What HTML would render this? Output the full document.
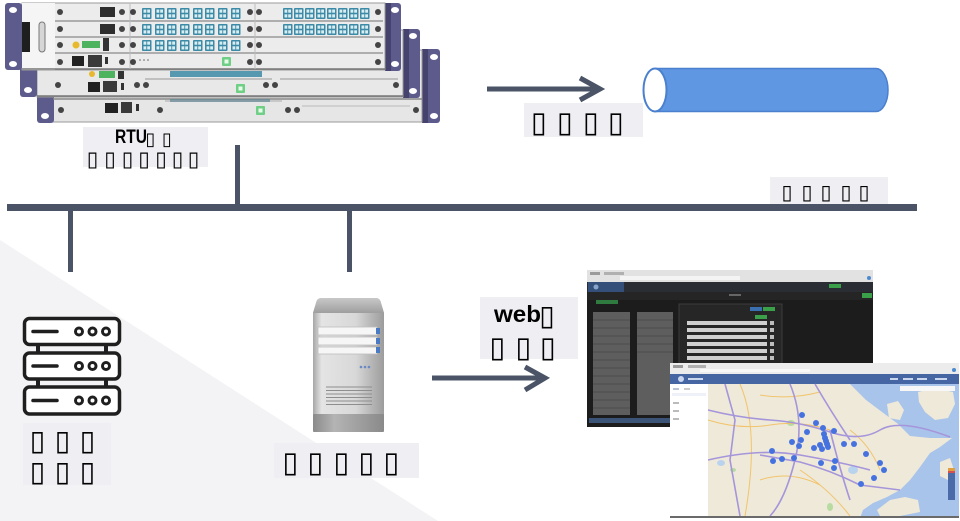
<!DOCTYPE html>
<html><head><meta charset="utf-8">
<style>
html,body{margin:0;padding:0;background:#fff;width:960px;height:521px;overflow:hidden;}
svg{display:block;}
.t{font-family:"DejaVu Sans",sans-serif;fill:#000;text-anchor:middle;}
.b{font-family:"Liberation Sans",sans-serif;font-weight:bold;fill:#000;}
</style></head><body>
<svg width="960" height="521" viewBox="0 0 960 521" xmlns="http://www.w3.org/2000/svg">
<defs>
  <g id="fc">
    <rect x="0" y="0" width="9.5" height="11" rx="1" fill="#3c8aa6"/>
    <rect x="1.5" y="1.5" width="2.8" height="3.2" fill="#d9eef3"/>
    <rect x="5.2" y="1.5" width="2.8" height="3.2" fill="#d9eef3"/>
    <rect x="1.5" y="6.3" width="2.8" height="3.2" fill="#d9eef3"/>
    <rect x="5.2" y="6.3" width="2.8" height="3.2" fill="#d9eef3"/>
  </g>
  <g id="gc">
    <rect x="0" y="0" width="9" height="9" rx="1" fill="#6fcf86"/>
    <rect x="2.5" y="2.5" width="4" height="4" fill="#e8fbe9"/>
  </g>
  <linearGradient id="tw" x1="0" x2="1" y1="0" y2="0">
    <stop offset="0" stop-color="#a6a6a6"/>
    <stop offset="0.12" stop-color="#e4e4e4"/>
    <stop offset="0.6" stop-color="#d8d8d8"/>
    <stop offset="1" stop-color="#9c9c9c"/>
  </linearGradient>
  <linearGradient id="twt" x1="0" x2="0" y1="0" y2="1">
    <stop offset="0" stop-color="#c8c8c8"/>
    <stop offset="1" stop-color="#9e9e9e"/>
  </linearGradient>
  <linearGradient id="twb" x1="0" x2="1" y1="0" y2="0">
    <stop offset="0" stop-color="#8a8a8a"/>
    <stop offset="0.3" stop-color="#b4b4b4"/>
    <stop offset="1" stop-color="#8a8a8a"/>
  </linearGradient>
</defs>

<!-- background triangle -->
<polygon points="0,240 0,521 438,521" fill="#f3f3f5"/>

<!-- ===== RTU chassis 3 (back) ===== -->
<rect x="422" y="49" width="18" height="74" rx="3" fill="#5d5b8c"/>
<rect x="422" y="49" width="6" height="74" fill="#45436d"/>
<ellipse cx="434" cy="57" rx="4" ry="3" fill="#fff"/>
<ellipse cx="434" cy="116" rx="4" ry="3" fill="#fff"/>
<rect x="53" y="50" width="369" height="72" fill="#e6e6e6" stroke="#9a9a9a" stroke-width="1"/>
<rect x="37" y="52" width="17" height="71" rx="3" fill="#5d5b8c"/>
<ellipse cx="45" cy="116" rx="4" ry="3" fill="#fff"/>
<line x1="53" y1="99" x2="422" y2="99" stroke="#888" stroke-width="1.5"/>
<rect x="105" y="103" width="13" height="10" fill="#222"/>
<rect x="121" y="102" width="11" height="11" fill="#3a3a3a"/>
<rect x="136" y="104" width="3" height="7" fill="#333"/>
<circle cx="61" cy="110" r="3" fill="#444"/>
<circle cx="160" cy="110" r="3" fill="#444"/>
<circle cx="288" cy="110" r="3" fill="#444"/>
<circle cx="297" cy="110" r="3" fill="#444"/>
<circle cx="416" cy="110" r="3" fill="#444"/>
<line x1="165" y1="101" x2="282" y2="101" stroke="#aaa"/>
<line x1="302" y1="106" x2="410" y2="106" stroke="#bbb"/>
<use href="#gc" x="256" y="106"/>
<rect x="170" y="99" width="100" height="3" fill="#557f90" opacity="0.6"/>

<!-- ===== RTU chassis 2 ===== -->
<rect x="403" y="29" width="17" height="69" rx="3" fill="#5d5b8c"/>
<rect x="403" y="29" width="6" height="69" fill="#45436d"/>
<ellipse cx="413" cy="36" rx="4" ry="3" fill="#fff"/>
<ellipse cx="413" cy="91" rx="4" ry="3" fill="#fff"/>
<rect x="37" y="30" width="366" height="67" fill="#e8e8e8" stroke="#9a9a9a" stroke-width="1"/>
<rect x="20" y="30" width="17" height="67" rx="3" fill="#5d5b8c"/>
<ellipse cx="28" cy="90" rx="4" ry="3" fill="#fff"/>
<line x1="37" y1="96" x2="403" y2="96" stroke="#777" stroke-width="1.5"/>
<circle cx="92" cy="74" r="3" fill="#e8b92c"/>
<rect x="99" y="71" width="16" height="7" fill="#4db35e"/>
<rect x="118" y="71" width="6" height="8" fill="#333"/>
<rect x="88" y="82" width="12" height="10" fill="#222"/>
<rect x="103" y="81" width="14" height="11" fill="#3a3a3a"/>
<rect x="121" y="83" width="3" height="7" fill="#333"/>
<circle cx="58" cy="85" r="3" fill="#444"/>
<circle cx="137" cy="85" r="3" fill="#444"/>
<circle cx="146" cy="85" r="3" fill="#444"/>
<circle cx="266" cy="85" r="3" fill="#444"/>
<circle cx="275" cy="85" r="3" fill="#444"/>
<circle cx="396" cy="85" r="3" fill="#444"/>
<line x1="145" y1="79" x2="272" y2="79" stroke="#999"/>
<line x1="280" y1="79" x2="398" y2="79" stroke="#999"/>
<rect x="170" y="71" width="92" height="6" fill="#3c8aa6" opacity="0.85"/>
<use href="#gc" x="236" y="84"/>

<!-- ===== RTU chassis 1 (front) ===== -->
<rect x="385" y="3" width="16" height="68" rx="3" fill="#5d5b8c"/>
<rect x="385" y="3" width="6" height="68" fill="#45436d"/>
<ellipse cx="395" cy="10" rx="4" ry="3" fill="#fff"/>
<ellipse cx="395" cy="64" rx="4" ry="3" fill="#fff"/>
<rect x="22" y="3" width="363" height="67" fill="#ececec" stroke="#9a9a9a" stroke-width="1"/>
<rect x="5" y="3" width="17" height="67" rx="3" fill="#5d5b8c"/>
<ellipse cx="13" cy="10" rx="4" ry="3" fill="#fff"/>
<ellipse cx="13" cy="64" rx="4" ry="3" fill="#fff"/>
<rect x="22" y="3" width="33" height="67" fill="#f5f5f5"/>
<rect x="22" y="22" width="8" height="30" fill="#1e1e1e"/>
<rect x="39" y="22" width="6" height="30" rx="3" fill="#d6d6d6" stroke="#777"/>
<line x1="55" y1="21" x2="383" y2="21" stroke="#999" stroke-width="1.5"/>
<line x1="55" y1="37" x2="383" y2="37" stroke="#999" stroke-width="1.5"/>
<line x1="55" y1="53" x2="383" y2="53" stroke="#999" stroke-width="1.5"/>
<line x1="22" y1="69" x2="385" y2="69" stroke="#777" stroke-width="1.5"/>
<line x1="130" y1="4" x2="130" y2="69" stroke="#bbb"/>
<line x1="255" y1="4" x2="255" y2="69" stroke="#bbb"/>
<rect x="100" y="7" width="15" height="10" fill="#2e2e2e"/>
<rect x="100" y="24" width="15" height="10" fill="#2e2e2e"/>
<circle cx="76" cy="45" r="3.5" fill="#e8b92c"/>
<rect x="82" y="41" width="18" height="7" fill="#4db35e"/>
<rect x="103" y="38" width="6" height="13" fill="#333"/>
<rect x="72" y="56" width="12" height="10" fill="#222"/>
<rect x="88" y="55" width="14" height="12" fill="#3a3a3a"/>
<rect x="105" y="57" width="3" height="7" fill="#333"/>
<g fill="#444">
<circle cx="60" cy="12" r="3"/><circle cx="60" cy="29" r="3"/><circle cx="60" cy="45" r="3"/><circle cx="60" cy="62" r="3"/>
<circle cx="122" cy="12" r="3"/><circle cx="122" cy="29" r="3"/><circle cx="122" cy="45" r="3"/><circle cx="122" cy="62" r="3"/>
<circle cx="133" cy="12" r="3"/><circle cx="133" cy="29" r="3"/><circle cx="133" cy="45" r="3"/><circle cx="133" cy="62" r="3"/>
<circle cx="250" cy="12" r="3"/><circle cx="250" cy="29" r="3"/><circle cx="250" cy="45" r="3"/><circle cx="250" cy="62" r="3"/>
<circle cx="259" cy="12" r="3"/><circle cx="259" cy="29" r="3"/><circle cx="259" cy="45" r="3"/><circle cx="259" cy="62" r="3"/>
<circle cx="378" cy="12" r="3"/><circle cx="378" cy="29" r="3"/><circle cx="378" cy="45" r="3"/><circle cx="378" cy="62" r="3"/>
</g>
<!-- fiber connectors col1 -->
<use href="#fc" x="142" y="8"/><use href="#fc" x="155" y="8"/><use href="#fc" x="167" y="8"/><use href="#fc" x="180" y="8"/><use href="#fc" x="193" y="8"/><use href="#fc" x="205" y="8"/><use href="#fc" x="218" y="8"/><use href="#fc" x="231" y="8"/>
<use href="#fc" x="142" y="24"/><use href="#fc" x="155" y="24"/><use href="#fc" x="167" y="24"/><use href="#fc" x="180" y="24"/><use href="#fc" x="193" y="24"/><use href="#fc" x="205" y="24"/><use href="#fc" x="218" y="24"/><use href="#fc" x="231" y="24"/>
<use href="#fc" x="142" y="40"/><use href="#fc" x="155" y="40"/><use href="#fc" x="167" y="40"/><use href="#fc" x="180" y="40"/><use href="#fc" x="193" y="40"/><use href="#fc" x="205" y="40"/><use href="#fc" x="218" y="40"/><use href="#fc" x="231" y="40"/>
<!-- col2 -->
<use href="#fc" x="283" y="8"/><use href="#fc" x="294" y="8"/><use href="#fc" x="305" y="8"/><use href="#fc" x="316" y="8"/><use href="#fc" x="327" y="8"/><use href="#fc" x="338" y="8"/><use href="#fc" x="349" y="8"/><use href="#fc" x="360" y="8"/>
<use href="#fc" x="283" y="24"/><use href="#fc" x="294" y="24"/><use href="#fc" x="305" y="24"/><use href="#fc" x="316" y="24"/><use href="#fc" x="327" y="24"/><use href="#fc" x="338" y="24"/><use href="#fc" x="349" y="24"/><use href="#fc" x="360" y="24"/>
<use href="#gc" x="222" y="57"/>
<circle cx="140" cy="60" r="0.8" fill="#666"/><circle cx="144" cy="60" r="0.8" fill="#666"/><circle cx="148" cy="60" r="0.8" fill="#666"/>

<!-- RTU label -->
<rect x="83" y="127" width="125" height="40" fill="#eeeef3"/>
<text class="b" x="115" y="143" font-size="19" textLength="32" lengthAdjust="spacingAndGlyphs">RTU</text>
<text class="t" font-size="18" x="150.5 167" y="145">▯▯</text>
<text class="t" font-size="21" x="92.5 110 127.5 144 161 177.5 193.5" y="166">▯▯▯▯▯▯▯</text>

<!-- vertical line RTU -> bus -->
<rect x="235" y="145" width="5" height="62" fill="#4a5466"/>
<!-- bus -->
<rect x="7" y="204" width="910" height="7" fill="#4a5466"/>
<!-- drops -->
<rect x="68" y="210" width="5" height="62" fill="#4a5466"/>
<rect x="347" y="210" width="5" height="62" fill="#4a5466"/>

<!-- bus label -->
<rect x="770" y="177" width="118" height="27" fill="#eeeef3"/>
<text class="t" font-size="20" x="787 807 826 846 864" y="199">▯▯▯▯▯</text>

<!-- top arrow -->
<line x1="487" y1="89" x2="600" y2="89" stroke="#4a5466" stroke-width="5"/>
<polyline points="580,78 600,89 580,100" fill="none" stroke="#4a5466" stroke-width="5" stroke-linejoin="miter"/>
<!-- top label -->
<rect x="524" y="103" width="119" height="34" fill="#eeeef3"/>
<text class="t" font-size="29" x="539 565 591 616" y="132">▯▯▯▯</text>

<!-- cylinder -->
<path d="M655 68.5 L876 68.5 A12 21.5 0 0 1 876 111.5 L655 111.5 Z" fill="#5f97e2" stroke="#4b80cf" stroke-width="1.5"/>
<ellipse cx="655" cy="90" rx="11.5" ry="21.5" fill="#fff" stroke="#4b80cf" stroke-width="2"/>

<!-- rack icon -->
<g stroke="#1f1f1f" stroke-width="3.5" fill="#fff">
<rect x="24.5" y="318.5" width="95" height="26" rx="5"/>
<rect x="24.5" y="353" width="95" height="26" rx="5"/>
<rect x="24.5" y="387" width="95" height="27" rx="5"/>
</g>
<g fill="#1f1f1f">
<rect x="36" y="344" width="4" height="9"/><rect x="104" y="344" width="4" height="9"/>
<rect x="36" y="379" width="4" height="8"/><rect x="104" y="379" width="4" height="8"/>
</g>
<g stroke="#1f1f1f" stroke-width="3.5" stroke-linecap="round">
<line x1="33" y1="331.5" x2="57" y2="331.5"/>
<line x1="33" y1="366" x2="57" y2="366"/>
<line x1="33" y1="400.5" x2="57" y2="400.5"/>
</g>
<g stroke="#1f1f1f" stroke-width="3" fill="none">
<circle cx="79" cy="331.5" r="3.5"/><circle cx="92.5" cy="331.5" r="3.5"/><circle cx="106" cy="331.5" r="3.5"/>
<circle cx="79" cy="366" r="3.5"/><circle cx="92.5" cy="366" r="3.5"/><circle cx="106" cy="366" r="3.5"/>
<circle cx="79" cy="400.5" r="3.5"/><circle cx="92.5" cy="400.5" r="3.5"/><circle cx="106" cy="400.5" r="3.5"/>
</g>
<rect x="23" y="423" width="88" height="62" fill="#eeeef3"/>
<text class="t" font-size="28" x="37.5 62.5 87.5" y="450">▯▯▯</text>
<text class="t" font-size="28" x="37.5 62.5 87.5" y="481">▯▯▯</text>

<!-- tower server -->
<path d="M321 298 L376 298 Q380 298 381 303 L384 313 L384 430 Q384 432 382 432 L315 432 Q313 432 313 430 L313 313 L316 303 Q317 298 321 298 Z" fill="url(#tw)"/>
<path d="M321 298 L376 298 Q380 298 381 303 L384 313 L313 313 L316 303 Q317 298 321 298 Z" fill="url(#twt)"/>
<rect x="318" y="327" width="59" height="8" fill="#f6f6f6" stroke="#bdbdbd" stroke-width="0.8"/>
<rect x="318" y="337" width="59" height="8" fill="#f6f6f6" stroke="#bdbdbd" stroke-width="0.8"/>
<rect x="318" y="347" width="59" height="7" fill="#f6f6f6" stroke="#bdbdbd" stroke-width="0.8"/>
<rect x="376" y="328" width="4" height="6" fill="#4a7ac4"/>
<rect x="376" y="338" width="4" height="6" fill="#4a7ac4"/>
<rect x="376" y="347" width="4" height="6" fill="#4a7ac4"/>
<circle cx="361" cy="367" r="1.3" fill="#6a8ac4"/><circle cx="365" cy="367" r="1.3" fill="#6a8ac4"/><circle cx="369" cy="367" r="1.3" fill="#6a8ac4"/>
<g stroke="#8e8e8e" stroke-width="0.9">
<line x1="326" y1="387" x2="372" y2="387"/><line x1="326" y1="390.5" x2="372" y2="390.5"/><line x1="326" y1="394" x2="372" y2="394"/><line x1="326" y1="397.5" x2="372" y2="397.5"/><line x1="326" y1="401" x2="372" y2="401"/><line x1="326" y1="404.5" x2="372" y2="404.5"/>
</g>
<rect x="313" y="414" width="71" height="18" rx="1" fill="url(#twb)"/>
<rect x="274" y="443" width="145" height="35" fill="#eeeef3"/>
<text class="t" font-size="29" x="290.5 315.5 341.5 366.5 391.5" y="472">▯▯▯▯▯</text>

<!-- middle arrow -->
<line x1="432" y1="378" x2="544" y2="378" stroke="#4a5466" stroke-width="5"/>
<polyline points="525,367 545,378 525,390" fill="none" stroke="#4a5466" stroke-width="5"/>

<!-- web label -->
<rect x="480" y="297" width="98" height="62" fill="#eeeef3"/>
<text class="b" x="494" y="322" font-size="23" textLength="47" lengthAdjust="spacingAndGlyphs">web</text>
<text class="t" font-size="28" x="547" y="325">▯</text>
<text class="t" font-size="29" x="497.5 523.5 548" y="357">▯▯▯</text>

<!-- ===== dark screenshot ===== -->
<rect x="587" y="270" width="286" height="157" fill="#1c1c1c"/>
<rect x="587" y="270" width="286" height="12" fill="#e2e2e2"/>
<rect x="590" y="272" width="10" height="3" fill="#9a9a9a"/>
<rect x="604" y="272" width="20" height="3" fill="#b0b0b0"/>
<rect x="620" y="276" width="120" height="4" fill="#f4f4f4"/>
<circle cx="869" cy="278" r="2" fill="#4a8ad0"/>
<rect x="587" y="282" width="286" height="10" fill="#2a2d33"/>
<rect x="588" y="282" width="36" height="10" fill="#34507a"/>
<circle cx="596" cy="287" r="2.5" fill="#8aa5cc"/>
<rect x="829" y="284" width="12" height="4" fill="#3aa04a"/>
<rect x="587" y="292" width="286" height="8" fill="#252525"/>
<rect x="862" y="293" width="10" height="5" fill="#3aa04a"/>
<rect x="729" y="294" width="12" height="2" fill="#666"/>
<rect x="596" y="300" width="22" height="4" fill="#2f7a3f"/>
<g fill="#5e5e5e">
<rect x="593" y="312" width="37" height="103"/>
<rect x="637" y="312" width="36" height="103"/>
</g>
<g stroke="#4c4c4c" stroke-width="1">
<line x1="593" y1="320" x2="630" y2="320"/><line x1="593" y1="328" x2="630" y2="328"/><line x1="593" y1="336" x2="630" y2="336"/><line x1="593" y1="344" x2="630" y2="344"/><line x1="593" y1="352" x2="630" y2="352"/><line x1="593" y1="360" x2="630" y2="360"/><line x1="593" y1="368" x2="630" y2="368"/><line x1="593" y1="376" x2="630" y2="376"/><line x1="593" y1="384" x2="630" y2="384"/><line x1="593" y1="392" x2="630" y2="392"/><line x1="593" y1="400" x2="630" y2="400"/><line x1="593" y1="408" x2="630" y2="408"/>
<line x1="637" y1="320" x2="673" y2="320"/><line x1="637" y1="328" x2="673" y2="328"/><line x1="637" y1="336" x2="673" y2="336"/><line x1="637" y1="344" x2="673" y2="344"/><line x1="637" y1="352" x2="673" y2="352"/>
</g>
<rect x="589" y="418" width="284" height="5" fill="#3c5378"/>
<rect x="679" y="304" width="103" height="123" fill="#262626" stroke="#3c3c3c"/>
<rect x="750" y="307" width="12" height="4" fill="#3a6fb0"/>
<rect x="763" y="307" width="12" height="4" fill="#3aa04a"/>
<rect x="755" y="315" width="12" height="4" fill="#3aa04a"/>
<g fill="#cfcfcf">
<rect x="687" y="321" width="80" height="4"/><rect x="687" y="328" width="80" height="4"/><rect x="687" y="335" width="80" height="4"/><rect x="687" y="342" width="80" height="4"/><rect x="687" y="349" width="80" height="4"/><rect x="687" y="356" width="80" height="4"/>
</g>
<g fill="#bdbdbd">
<rect x="770" y="321" width="4" height="4"/><rect x="770" y="328" width="4" height="4"/><rect x="770" y="335" width="4" height="4"/><rect x="770" y="342" width="4" height="4"/><rect x="770" y="349" width="4" height="4"/><rect x="770" y="356" width="4" height="4"/>
</g>

<!-- ===== map screenshot ===== -->
<rect x="670" y="363" width="289" height="155" fill="#efe9d9"/>
<rect x="670" y="363" width="289" height="11" fill="#ececec"/>
<rect x="673" y="365" width="10" height="3" fill="#9a9a9a"/>
<rect x="688" y="365" width="18" height="3" fill="#b0b0b0"/>
<rect x="700" y="369" width="110" height="3" fill="#f8f8f8"/>
<circle cx="954" cy="370" r="2" fill="#4a8ad0"/>
<rect x="670" y="374" width="289" height="10" fill="#4566a3"/>
<circle cx="681" cy="379" r="3" fill="#c9d6ee"/>
<rect x="688" y="378" width="15" height="2" fill="#c9d6ee"/>
<rect x="890" y="378" width="8" height="2" fill="#c9d6ee"/>
<rect x="903" y="378" width="10" height="2" fill="#c9d6ee"/>
<rect x="917" y="378" width="10" height="2" fill="#c9d6ee"/>
<rect x="935" y="378" width="12" height="2" fill="#c9d6ee"/>
<!-- sea -->
<polygon points="850,384 959,384 959,442 952,438 930,438 910,436 898,424 882,412 866,400" fill="#a9c4ea"/>
<polygon points="952,438 959,440 959,518 860,518 863,510 873,503 887,497 900,490 910,480 920,467 930,453 940,447" fill="#a9c4ea"/>
<!-- islands/land -->
<polygon points="918,392 935,388 953,392 955,404 948,418 935,420 925,412 919,402" fill="#efe9d9"/>
<polygon points="887,404 898,401 904,410 900,420 889,418" fill="#efe9d9"/>
<polygon points="940,462 950,458 954,470 948,480 940,476" fill="#efe9d9"/>
<polygon points="877,510 890,500 905,497 918,500 920,512 900,516 880,516" fill="#efe9d9"/>
<rect x="900" y="386" width="55" height="5" fill="#f7f7f7"/>
<!-- green patches -->
<ellipse cx="791" cy="423" rx="4" ry="3" fill="#b7dba0"/>
<ellipse cx="733" cy="470" rx="3" ry="2" fill="#b7dba0"/>
<ellipse cx="853" cy="470" rx="5" ry="4" fill="#b9d3ee"/>
<ellipse cx="830" cy="507" rx="3" ry="4" fill="#b7dba0"/>
<ellipse cx="721" cy="463" rx="4" ry="3" fill="#b9d3ee"/>
<!-- roads -->
<g fill="none" stroke="#f1c46c" stroke-width="1">
<path d="M708 420 Q740 430 770 425 T830 430"/>
<path d="M740 384 Q760 430 745 516"/>
<path d="M800 470 Q830 490 850 516"/>
<path d="M760 480 Q790 470 820 485"/>
<path d="M850 430 Q870 445 880 470"/>
<path d="M760 395 Q790 400 820 392"/>
</g>
<g fill="none" stroke="#a595db" stroke-width="1.6">
<path d="M708 410 Q740 418 770 420 T830 432 T880 430 T950 437"/>
<path d="M725 384 L735 420 L730 460 L740 516"/>
<path d="M790 384 Q805 420 795 460 T770 516"/>
<path d="M708 460 Q760 448 800 455 T870 470"/>
<path d="M760 455 L800 462 Q830 470 860 485 L900 490"/>
<path d="M830 430 Q840 470 850 500"/>
<path d="M815 384 Q830 410 850 440"/>
</g>
<!-- left panel -->
<rect x="670" y="384" width="38" height="132" fill="#ffffff"/>
<rect x="673" y="388" width="6" height="2" fill="#b9c4d8"/>
<rect x="684" y="388" width="6" height="2" fill="#cccccc"/>
<rect x="672" y="393" width="34" height="3" fill="#eef2f8"/>
<rect x="673" y="402" width="6" height="2" fill="#bbbbbb"/>
<rect x="673" y="410" width="6" height="2" fill="#bbbbbb"/>
<rect x="673" y="418" width="6" height="2" fill="#bbbbbb"/>
<!-- pins -->
<g fill="#4672e0">
<circle cx="802" cy="415" r="3"/><circle cx="816" cy="423" r="3"/><circle cx="823" cy="428" r="3"/><circle cx="834" cy="431" r="3"/>
<circle cx="807" cy="432" r="3"/><circle cx="824" cy="434" r="3"/><circle cx="801" cy="440" r="3"/><circle cx="792" cy="442" r="3"/>
<circle cx="826" cy="441" r="3"/><circle cx="827" cy="444" r="3"/><circle cx="799" cy="446" r="3"/><circle cx="814" cy="448" r="3"/>
<circle cx="822" cy="449" r="3"/><circle cx="828" cy="447" r="3"/><circle cx="844" cy="444" r="3"/><circle cx="854" cy="444" r="3"/>
<circle cx="772" cy="451" r="3"/><circle cx="866" cy="454" r="3"/><circle cx="773" cy="461" r="3"/><circle cx="782" cy="459" r="3"/>
<circle cx="794" cy="458" r="3"/><circle cx="821" cy="463" r="3"/><circle cx="835" cy="461" r="3"/><circle cx="834" cy="468" r="3"/>
<circle cx="880" cy="463" r="3"/><circle cx="884" cy="470" r="3"/><circle cx="874" cy="478" r="3"/><circle cx="861" cy="484" r="3"/>
<circle cx="825" cy="438" r="3"/><circle cx="820" cy="445" r="3"/>
</g>
<!-- right toolbar -->
<rect x="948" y="468" width="7" height="32" fill="#4a6aa8"/>
<rect x="948" y="468" width="7" height="3" fill="#e0a040"/>
<rect x="948" y="471" width="7" height="2" fill="#d65050"/>
<rect x="670" y="516" width="289" height="2" fill="#6a6a6a"/>
</svg>
</body></html>
